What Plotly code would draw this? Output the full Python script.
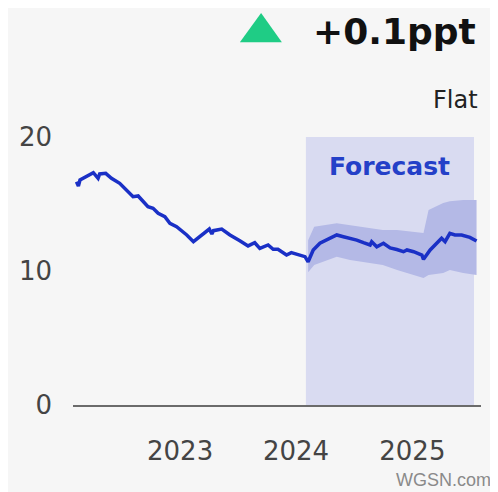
import plotly.graph_objects as go

# ---- data ----
dates = [
    "2022-02-09", "2022-02-15", "2022-02-20", "2022-03-13", "2022-04-03", "2022-04-18",
    "2022-04-23", "2022-05-12", "2022-05-30", "2022-06-25", "2022-07-16", "2022-08-06",
    "2022-08-22", "2022-09-07", "2022-09-22", "2022-10-08", "2022-10-24", "2022-11-14",
    "2022-11-30", "2022-12-21", "2023-01-22", "2023-02-12", "2023-03-05", "2023-03-15",
    "2023-04-03", "2023-04-11", "2023-04-16", "2023-05-12", "2023-06-07", "2023-07-08",
    "2023-08-03", "2023-08-24", "2023-09-09", "2023-10-05", "2023-10-21", "2023-11-05",
    "2023-11-16", "2023-12-02", "2023-12-17", "2024-01-03", "2024-01-29", "2024-02-08",
    "2024-02-24", "2024-03-16", "2024-04-07", "2024-05-08", "2024-05-29", "2024-06-19",
    "2024-07-10", "2024-07-31", "2024-08-21", "2024-08-26", "2024-09-11", "2024-10-02",
    "2024-10-23", "2024-11-13", "2024-12-04", "2024-12-15", "2025-01-05", "2025-01-31",
    "2025-02-05", "2025-02-26", "2025-03-18", "2025-04-03", "2025-04-14", "2025-04-29",
    "2025-05-15", "2025-06-05", "2025-07-01", "2025-07-22",
]
values = [
    16.66, 16.34, 16.79, 17.09, 17.34, 16.92,
    17.24, 17.29, 16.92, 16.54, 16.04, 15.55,
    15.60, 15.17, 14.80, 14.68, 14.31, 14.05,
    13.56, 13.31, 12.69, 12.19, 12.56, 12.81,
    13.13, 12.76, 13.01, 13.13, 12.69, 12.26,
    11.87, 12.11, 11.69, 11.94, 11.62, 11.62,
    11.44, 11.19, 11.37, 11.25, 11.07, 10.69,
    11.57, 12.07, 12.31, 12.69, 12.56, 12.44,
    12.31, 12.11, 11.94, 12.19, 11.81, 12.07,
    11.72, 11.60, 11.44, 11.57, 11.44, 11.19,
    10.87, 11.57, 12.07, 12.44, 12.19, 12.81,
    12.69, 12.69, 12.51, 12.24,
]

band_dates = ["2024-02-08", "2024-02-27", "2024-05-08", "2024-06-19", "2024-09-30",
              "2024-11-14", "2025-02-05", "2025-02-21", "2025-04-08", "2025-04-29",
              "2025-06-10", "2025-07-22"]
band_upper = [12.3, 13.3, 13.56, 13.43, 13.06, 13.06, 12.84, 14.55, 15.07, 15.2, 15.3, 15.3]
band_lower = [9.9, 10.45, 11.07, 10.82, 10.45, 10.07, 9.48, 9.7, 9.85, 10.07, 9.85, 9.7]

forecast_start = "2024-02-01"
forecast_end = "2025-07-14"

y_ticks = [0, 10, 20]
x_ticks = ["2023-01-01", "2024-01-01", "2025-01-01"]
x_tick_labels = ["2023", "2024", "2025"]

headline = "+0.1ppt"
subline = "Flat"
source = "WGSN.com"

FONT = "'DejaVu Sans', sans-serif"
LINE = "#1a30c6"

fig = go.Figure()

fig.add_trace(go.Scatter(x=band_dates, y=band_lower, mode="lines",
                         line=dict(width=0, color="#b4b9e6"), hoverinfo="skip",
                         showlegend=False))
fig.add_trace(go.Scatter(x=band_dates, y=band_upper, mode="lines", fill="tonexty",
                         fillcolor="#b4b9e6", line=dict(width=0, color="#b4b9e6"),
                         hoverinfo="skip", showlegend=False))
fig.add_trace(go.Scatter(x=dates, y=values, mode="lines",
                         line=dict(color=LINE, width=3.5), showlegend=False))

fig.add_shape(type="rect", xref="x", yref="y", x0=forecast_start, x1=forecast_end,
              y0=0, y1=20, fillcolor="#d9dbf1", line=dict(width=0), layer="below")

fig.add_annotation(x="2024-10-22", y=17.8, xref="x", yref="y", text="<b>Forecast</b>",
                   showarrow=False, font=dict(family=FONT, size=25, color="#2440c8"))

# headline: triangle + value
fig.add_shape(type="path", xref="paper", yref="paper",
              path="M 0.409 1.354 L 0.512 1.354 L 0.461 1.463 Z",
              fillcolor="#1fcc85", line=dict(width=0))
fig.add_annotation(x=0.993, y=1.392, xref="paper", yref="paper", xanchor="right",
                   yanchor="middle", text="<b>" + headline + "</b>", showarrow=False,
                   font=dict(family=FONT, size=36, color="#111111"))
fig.add_annotation(x=0.9975, y=1.138, xref="paper", yref="paper", xanchor="right",
                   yanchor="middle", text=subline, showarrow=False,
                   font=dict(family=FONT, size=24, color="#222222"))
fig.add_annotation(x=1.03, y=-0.28, xref="paper", yref="paper", xanchor="right",
                   yanchor="middle", text=source, showarrow=False,
                   font=dict(family="'Liberation Sans', Arial, sans-serif", size=18,
                             color="#8a8a8a"))

fig.update_layout(
    width=490, height=484,
    margin=dict(l=65, r=17, t=129, b=87),
    paper_bgcolor="#f6f6f6", plot_bgcolor="#f6f6f6",
    font=dict(family=FONT, color="#444444"),
    showlegend=False,
)
fig.update_xaxes(type="date", range=["2022-01-29", "2025-08-05"],
                 tickvals=x_ticks, ticktext=x_tick_labels, showgrid=False,
                 zeroline=False, showline=True, linecolor="#6b6b6b", linewidth=2,
                 ticks="", tickfont=dict(family=FONT, size=26, color="#444444"),
                 ticklabelstandoff=22)
fig.update_yaxes(range=[0, 20], tickvals=y_ticks, showgrid=False, zeroline=False,
                 showline=False, ticks="",
                 tickfont=dict(family=FONT, size=26, color="#444444"),
                 ticklabelstandoff=20)

fig.write_html("out.html")
